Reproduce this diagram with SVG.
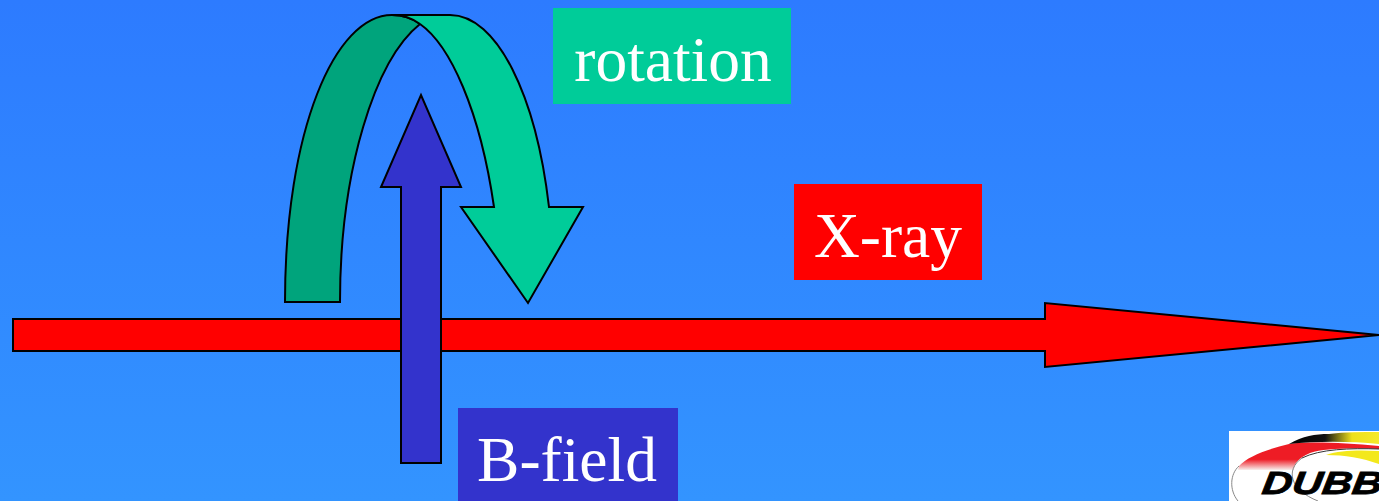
<svg xmlns="http://www.w3.org/2000/svg" width="1379" height="501" viewBox="0 0 1379 501">
<defs>
<linearGradient id="bg" x1="0" y1="0" x2="0" y2="1"><stop offset="0" stop-color="#2d7bff"/><stop offset="1" stop-color="#3394ff"/></linearGradient>
<linearGradient id="stripe" x1="1289" y1="0" x2="1379" y2="0" gradientUnits="userSpaceOnUse"><stop offset="0" stop-color="#000"/><stop offset="0.4" stop-color="#111"/><stop offset="0.7" stop-color="#eee01c"/><stop offset="1" stop-color="#f5e92a"/></linearGradient>
<linearGradient id="redfade" x1="0" y1="432" x2="0" y2="470" gradientUnits="userSpaceOnUse"><stop offset="0" stop-color="#ee1c25"/><stop offset="0.72" stop-color="#ee1c25"/><stop offset="1" stop-color="#f8f0ee"/></linearGradient>
</defs>
<style>
.s{stroke:#000;stroke-width:2;stroke-linejoin:miter}
.t{font-family:"Liberation Serif","Times New Roman",serif;font-size:63.5px;fill:#fff;text-anchor:middle}
</style>
<rect width="1379" height="501" fill="url(#bg)"/>
<g id="connectors">
<path id="xray-arrow" class="s" fill="#ff0000" d="M13 319H1045V303L1379 335L1045 367V351H13Z"/>
<path id="rotation-back" class="s" fill="#00a47c" d="M285 302C285 130 335 15 392 15C403 15 412 18 420 24C375 60 340 170 340 302Z"/>
<path id="rotation-front" class="s" fill="#00cc99" d="M392 15H450C497 15 536 95 549 207H583L528 303L461 207H494C480 110 450 45 420 24C412 18 403 15 392 15Z"/>
<path id="bfield-arrow" class="s" fill="#3333cc" d="M401 463V187H381L421 95L461 187H441V463Z"/>
</g>
<g id="rotation-label"><rect x="553" y="8" width="238" height="96" fill="#00cc99"/><text class="t" x="673" y="81">rotation</text></g>
<g id="xray-label"><rect x="794" y="184" width="188" height="96" fill="#ff0000"/><text class="t" x="888" y="257">X-ray</text></g>
<g id="bfield-label"><rect x="458" y="408" width="220" height="93" fill="#3333cc"/><text class="t" x="567" y="481">B-field</text></g>
<g id="logo">
<rect x="1229" y="431" width="150" height="70" fill="#fff"/>
<path d="M1239 466C1248 456 1268 449 1289 444C1310 441 1345 443 1379 446V449C1350 448 1325 448 1310 453C1298 458 1294 464 1294 470L1238 470Z" fill="url(#redfade)"/>
<path d="M1289 444C1303 436 1315 434 1329 434C1345 432 1362 432 1379 432V444C1350 441 1315 441 1289 444Z" fill="url(#stripe)"/>
<path d="M1326 455C1340 450 1360 450 1379 451V464C1362 458 1345 455 1326 455Z" fill="#f3e81c"/>
<path d="M1302 458C1320 449 1350 448 1379 449" fill="none" stroke="#333" stroke-width="1"/>
<path d="M1239 466C1230 474 1229 490 1238 501M1302 458C1285 470 1290 490 1318 501" fill="none" stroke="#888" stroke-width="1"/>
<text transform="translate(1261 494) skewX(-8) scale(1.3 1)" font-family="'Liberation Sans',Arial,sans-serif" font-weight="700" font-style="italic" font-size="32" fill="#000" stroke="#000" stroke-width="0.8">DUBB</text>
</g>
</svg>
